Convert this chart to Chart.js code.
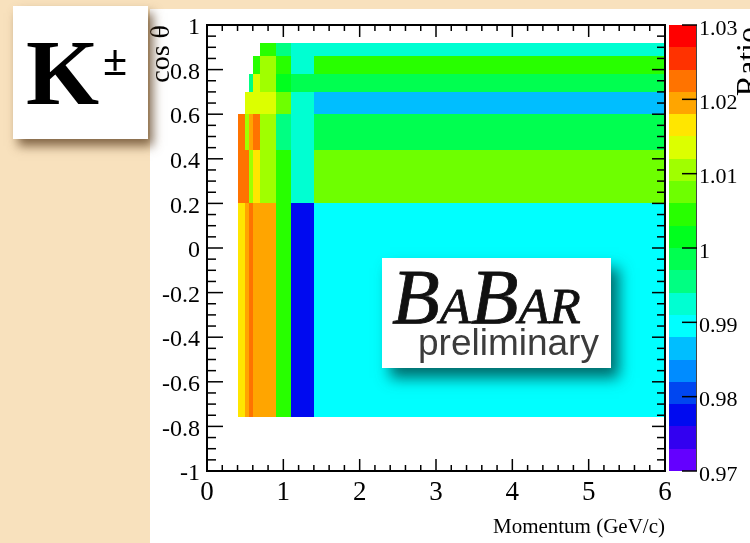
<!DOCTYPE html>
<html>
<head>
<meta charset="utf-8">
<script src="https://cdn.jsdelivr.net/npm/chart.js@4"></script>
<style>
  html, body { margin: 0; padding: 0; }
  body { width: 750px; height: 543px; background: #f8e1bd; position: relative; overflow: hidden; }
  #panel { position: absolute; left: 150px; top: 9px; width: 600px; height: 534px; background: #fff; }
  #chart { position: absolute; left: 0; top: 0; }
  #kbox { position: absolute; left: 13px; top: 6px; width: 135px; height: 133px; background: #fff;
          box-shadow: 5px 7px 10px rgba(90, 60, 30, 0.75); font-family: 'Liberation Serif', serif; font-weight: bold; }
  #kbox .k { position: absolute; left: 13px; top: 19px; font-size: 94px; line-height: 1; }
  #kbox .pm { position: absolute; left: 90px; top: 33px; font-size: 44px; line-height: 1; }
  #logo { position: absolute; left: 382px; top: 258px; width: 229px; height: 110px; background: #fff;
          box-shadow: 8px 10px 14px rgba(0, 70, 70, 0.8); }
  #logo .babar { position: absolute; left: 10px; top: 0; font-family: 'Liberation Serif', serif; font-style: italic;
                 font-size: 78px; line-height: 1; color: #111; white-space: nowrap; -webkit-text-stroke: 0.8px #111; }
  #logo .babar small { font-size: 51px; }
  #logo .prelim { position: absolute; left: 36px; top: 66px; font-family: 'Liberation Sans', Arial, sans-serif;
                  font-size: 37px; line-height: 1; color: #3c3c3c; }
</style>
</head>
<body>
<div id="panel"></div>
<canvas id="chart" width="750" height="543"></canvas>
<div id="kbox"><span class="k">K</span><span class="pm">±</span></div>
<div id="logo"><span class="babar">B<small>A</small>B<small>AR</small></span><span class="prelim">preliminary</span></div>
<script>
// bin edges of the 2D histogram
const momentumEdges = [0.4, 0.5, 0.55, 0.6, 0.7, 0.9, 1.1, 1.4, 6.0];
const cosThetaEdges = [-0.76, 0.2, 0.44, 0.6, 0.7, 0.78, 0.86, 0.92];

// ratio per momentum bin, one array per cos(theta) bin from bottom to top (null = empty)
const ratioCos1 = [1.016, 1.019, 1.022, 1.020, 1.019, 1.005, 0.978, 0.990];
const ratioCos2 = [1.023, 1.022, 1.011, 1.017, 1.010, 1.004, 0.993, 1.007];
const ratioCos3 = [1.022, 1.011, 1.019, 1.023, 1.010, 0.996, 0.993, 0.999];
const ratioCos4 = [null, 1.013, 1.014, 1.013, 1.013, 1.007, 0.993, 0.987];
const ratioCos5 = [null, null, 0.996, 1.013, 1.011, 1.002, 0.998, 0.999];
const ratioCos6 = [null, null, null, 1.005, 1.010, 1.004, 0.993, 1.005];
const ratioCos7 = [null, null, null, null, 1.004, 0.996, 0.993, 0.992];
const ratioRows = [ratioCos1, ratioCos2, ratioCos3, ratioCos4, ratioCos5, ratioCos6, ratioCos7];

const xTicks = [0, 1, 2, 3, 4, 5, 6];
const yTicks = [-1, -0.8, -0.6, -0.4, -0.2, 0, 0.2, 0.4, 0.6, 0.8, 1];
const zTicks = [0.97, 0.98, 0.99, 1, 1.01, 1.02, 1.03];

// colour scale: 20 contours between 0.97 and 1.03
const zMin = 0.97, zMax = 1.03, nContours = 20;
const palette = ['#6400ff', '#3200f0', '#000af0', '#0046f0', '#008cff', '#00beff', '#00ffff', '#00ffd2',
                 '#00ff82', '#00ff50', '#00ff1e', '#28ff00', '#6eff00', '#a0ff00', '#dcff00', '#ffe600',
                 '#ffa500', '#ff7300', '#ff3200', '#ff0000'];
const zStep = (zMax - zMin) / nContours;

function colorFor(v) {
  let k = Math.floor((v - zMin) / zStep + 1e-9);
  k = Math.max(0, Math.min(nContours - 1, k));
  return palette[k];
}

const cells = [];
ratioRows.forEach((row, i) => {
  row.forEach((v, j) => {
    if (v === null) return;
    cells.push({
      x: (momentumEdges[j] + momentumEdges[j + 1]) / 2,
      y: (cosThetaEdges[i] + cosThetaEdges[i + 1]) / 2,
      x0: momentumEdges[j], x1: momentumEdges[j + 1],
      y0: cosThetaEdges[i], y1: cosThetaEdges[i + 1], v: v
    });
  });
});

const serif = "'Liberation Serif', 'Times New Roman', serif";

function line(ctx, x1, y1, x2, y2) {
  ctx.beginPath(); ctx.moveTo(x1, y1); ctx.lineTo(x2, y2); ctx.stroke();
}

// no extra room for overhanging tick labels, the frame must sit where ROOT put it
function noPad(s) {
  s.paddingTop = 0; s.paddingBottom = 0; s.paddingLeft = 0; s.paddingRight = 0;
}

const histPlugin = {
  id: 'hist',
  beforeDatasetsDraw(chart) {
    const { ctx, scales: { x, y } } = chart;
    ctx.save();
    chart.data.datasets[0].data.forEach(c => {
      const l = Math.round(x.getPixelForValue(c.x0)), r = Math.round(x.getPixelForValue(c.x1));
      const t = Math.round(y.getPixelForValue(c.y1)), b = Math.round(y.getPixelForValue(c.y0));
      ctx.fillStyle = colorFor(c.v);
      ctx.fillRect(l, t, r - l, b - t);
    });
    ctx.restore();
  },
  afterDraw(chart) {
    const { ctx, chartArea: { left, right, top, bottom }, scales: { x, y, z } } = chart;
    ctx.save();
    ctx.strokeStyle = '#000';
    ctx.lineWidth = 1.5;
    // momentum ticks, bottom and top
    for (let k = 0; k <= 30; k++) {
      const px = x.getPixelForValue(k * 0.2);
      const len = k % 5 === 0 ? 12 : 6;
      line(ctx, px, bottom, px, bottom - len);
      line(ctx, px, top, px, top + len);
    }
    // cos theta ticks, left and right
    for (let k = 0; k <= 40; k++) {
      const py = y.getPixelForValue(-1 + k * 0.05);
      const major = k % 4 === 0;
      line(ctx, left, py, left + (major ? 16 : 9), py);
      line(ctx, right, py, right - (major ? 13 : 8), py);
    }
    ctx.lineWidth = 2;
    ctx.strokeRect(left, top, right - left, bottom - top);

    // colour bar
    const bl = z.left + 4, br = z.left + 31;
    for (let k = 0; k < nContours; k++) {
      const t = Math.round(z.getPixelForValue(zMin + (k + 1) * zStep));
      const b = Math.round(z.getPixelForValue(zMin + k * zStep));
      ctx.fillStyle = palette[k];
      ctx.fillRect(bl, t, br - bl, b - t);
    }
    ctx.lineWidth = 1;
    ctx.strokeStyle = '#444';
    line(ctx, br + 0.5, z.top, br + 0.5, z.bottom);
    ctx.strokeStyle = '#000';
    ctx.lineWidth = 1.5;
    zTicks.forEach(v => {
      const py = z.getPixelForValue(v);
      line(ctx, br - 14, py, br + 1, py);
    });

    // z axis title, rotated like ROOT
    ctx.translate(758, z.top + 2);
    ctx.rotate(-Math.PI / 2);
    ctx.fillStyle = '#000';
    ctx.font = '32px ' + serif;
    ctx.textAlign = 'right';
    ctx.textBaseline = 'alphabetic';
    ctx.fillText('Ratio', 0, 0);
    ctx.restore();
  }
};

new Chart(document.getElementById('chart'), {
  type: 'scatter',
  data: {
    datasets: [{ data: cells, pointRadius: 0, pointHoverRadius: 0, showLine: false }]
  },
  options: {
    responsive: false,
    animation: false,
    devicePixelRatio: 1,
    layout: { padding: { top: 25, left: 0, right: 0, bottom: 0 } },
    plugins: { legend: { display: false }, tooltip: { enabled: false } },
    scales: {
      x: {
        type: 'linear', position: 'bottom', min: 0, max: 6,
        afterBuildTicks: s => { s.ticks = xTicks.map(v => ({ value: v })); },
        afterFit: s => { s.height = 72; noPad(s); },
        grid: { display: false, drawTicks: false },
        border: { display: false },
        ticks: { color: '#000', font: { family: serif, size: 27 }, padding: 6, maxRotation: 0, autoSkip: false,
                 callback: v => String(v) },
        title: { display: true, text: 'Momentum (GeV/c)', align: 'end', color: '#000',
                 font: { family: serif, size: 21 }, padding: { top: 0, bottom: 3 } }
      },
      y: {
        type: 'linear', position: 'left', min: -1, max: 1,
        afterBuildTicks: s => { s.ticks = yTicks.map(v => ({ value: v })); },
        afterFit: s => { s.width = 207; noPad(s); },
        grid: { display: false, drawTicks: false },
        border: { display: false },
        ticks: { color: '#000', font: { family: serif, size: 24 }, padding: 7, autoSkip: false, labelOffset: 3,
                 callback: v => String(Number(v.toFixed(1))) },
        title: { display: true, text: 'cos θ', align: 'end', color: '#000',
                 font: { family: serif, size: 28 }, padding: { top: 145, bottom: 0 } }
      },
      z: {
        type: 'linear', axis: 'y', position: 'right', min: zMin, max: zMax,
        afterBuildTicks: s => { s.ticks = zTicks.map(v => ({ value: v })); },
        afterFit: s => { s.width = 85; noPad(s); },
        grid: { display: false, drawTicks: false },
        border: { display: false },
        ticks: { color: '#000', font: { family: serif, size: 22 }, padding: 34, autoSkip: false, labelOffset: 4,
                 callback: v => String(Number(v.toFixed(2))) }
      }
    }
  },
  plugins: [histPlugin]
});
</script>
</body>
</html>
